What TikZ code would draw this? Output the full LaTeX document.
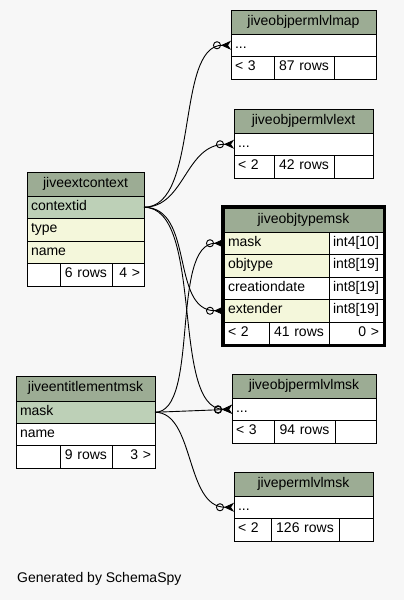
\documentclass[tikz,border=0pt]{standalone}
\usepackage{fontspec}
\setmainfont{Liberation Sans}
\usetikzlibrary{arrows.meta}

\definecolor{kopf}{HTML}{9CAC94}
\definecolor{schluessel}{HTML}{BDD0B7}
\definecolor{zeile}{HTML}{F4F7DB}
\definecolor{hintergrund}{HTML}{F7F7F7}

\begin{document}
\begin{tikzpicture}[x=1pt, y=-1pt,
    zelle/.style={draw, line width=0.8pt, anchor=north west, inner xsep=4pt, inner ysep=0pt, outer sep=0pt,
                  minimum height=#1, font=\fontsize{14}{16}\selectfont, execute at begin node=\strut},
    zelle/.default=22.5pt,
    fk/.style={draw, line width=0.9pt,
               -{Circle[open,length=8pt,width=8pt] Stealth[reversed,length=10pt,width=9pt,inset=3pt]}}]

    % Hintergrund
    \fill[hintergrund] (0,0) rectangle (404,600);
    \useasboundingbox (0,0) rectangle (404,600);

    % Tabellen mit nur einer Zeile "..." in Foreach-Schleife
    \foreach \tab/\xPos/\yPos/\titel/\eltern/\zeilen/\bA/\bB/\bC in
                                                     {map/231/10/jiveobjpermlvlmap/3/87/43/60/42,
                                                      ext/234/109/jiveobjpermlvlext/2/42/40/60/39,
                                                      olmsk/232/374/jiveobjpermlvlmsk/3/94/42/61/41,
                                                      plmsk/234/472/jivepermlvlmsk/2/126/37/68/34}
        {
            \pgfmathsetmacro{\tw}{\bA+\bB+\bC-8}
            \pgfmathsetmacro{\twA}{\bA-8}
            \pgfmathsetmacro{\twB}{\bB-8}
            \pgfmathsetmacro{\twC}{\bC-8}
            \node[zelle=24pt, fill=kopf, text width=\tw pt, align=center] (\tab-head) at (\xPos,\yPos) {\titel};
            \node[zelle, fill=white, text width=\tw pt, align=left] (\tab-row) at (\tab-head.south west) {...};
            % Fusszeile
            \node[zelle, fill=white, text width=\twA pt, align=left] (\tab-fa) at (\tab-row.south west) {< \eltern};
            \node[zelle, fill=white, text width=\twB pt, align=center] (\tab-fb) at (\tab-fa.north east) {\zeilen\ rows};
            \node[zelle, fill=white, text width=\twC pt, align=right] (\tab-fc) at (\tab-fb.north east) {};
        }

    % jiveextcontext
    \node[zelle=24pt, fill=kopf, text width=109pt, align=center] (ctx-head) at (27,172) {jiveextcontext};
    \foreach \spalte/\farbe/\yPos in {contextid/schluessel/196, type/zeile/218.5, name/zeile/241}
        \node[zelle, fill=\farbe, text width=109pt, align=left] (ctx-\spalte) at (27,\yPos) {\spalte};
    \node[zelle, fill=white, text width=25pt, align=left] (ctx-fa) at (27,263.5) {};
    \node[zelle, fill=white, text width=44pt, align=center] (ctx-fb) at (60,263.5) {6 rows};
    \node[zelle, fill=white, text width=24pt, align=right] (ctx-fc) at (112,263.5) {4 >};

    % jiveentitlementmsk
    \node[zelle=25pt, fill=kopf, text width=131pt, align=center] (ent-head) at (16,376) {jiveentitlementmsk};
    \foreach \spalte/\farbe/\yPos in {mask/schluessel/401, name/white/423}
        \node[zelle, fill=\farbe, text width=131pt, align=left] (ent-\spalte) at (16,\yPos) {\spalte};
    \node[zelle, fill=white, text width=36pt, align=left] (ent-fa) at (16,445.5) {};
    \node[zelle, fill=white, text width=44pt, align=center] (ent-fb) at (60,445.5) {9 rows};
    \node[zelle, fill=white, text width=35pt, align=right] (ent-fc) at (112,445.5) {3 >};

    % jiveobjtypemsk (hervorgehoben)
    \node[zelle=24pt, fill=kopf, text width=151pt, align=center] (ots-head) at (224,208) {jiveobjtypemsk};
    \foreach \spalte/\farbe/\yPos/\typ in {mask/zeile/232/int4[10], objtype/zeile/254.5/int8[19],
                                          creationdate/white/277/int8[19], extender/zeile/299.5/int8[19]}
        {
            \node[zelle, fill=\farbe, text width=97pt, align=left] (ots-\spalte) at (224,\yPos) {\spalte};
            \node[zelle, fill=white, text width=46pt, align=left] (ots-\spalte-typ) at (329,\yPos) {\typ};
        }
    \node[zelle, fill=white, text width=37pt, align=left] (ots-fa) at (224,322) {< 2};
    \node[zelle, fill=white, text width=52pt, align=center] (ots-fb) at (269,322) {41 rows};
    \node[zelle, fill=white, text width=46pt, align=right] (ots-fc) at (329,322) {0 >};
    \draw[line width=3pt] (222.5,206.5) rectangle (384.5,345.5);  % dicker Rahmen

    % Fremdschluessel: von/nach/Kontrollpunkte
    \foreach \von/\nach/\ca/\cb in {ctx-contextid/map-row/56/-56,
                                    ctx-contextid/ext-row/41/-49,
                                    ctx-contextid/ots-extender/51/-54,
                                    ctx-contextid/olmsk-row/61/-62,
                                    ent-mask/ots-mask/45/-54,
                                    ent-mask/plmsk-row/40/-49}
        \draw[fk] (\von.east) .. controls +(\ca,0) and +(\cb,0) .. (\nach.west);
    \draw[fk] (ent-mask.east) -- (olmsk-row.west);

    \node[anchor=west, inner sep=0pt, font=\fontsize{14}{16}\selectfont] (schemaspy) at (17,578.5) {Generated by SchemaSpy};
\end{tikzpicture}
\end{document}
